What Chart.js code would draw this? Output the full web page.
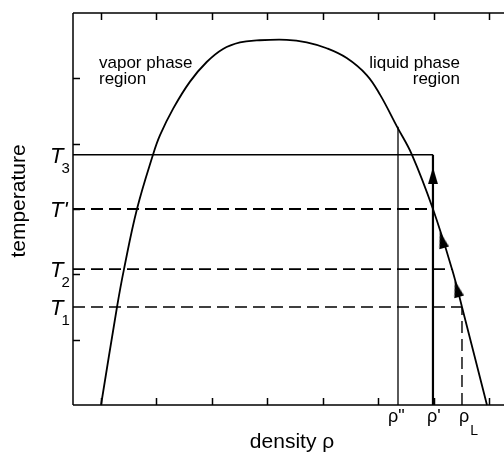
<!DOCTYPE html>
<html>
<head>
<meta charset="utf-8">
<script src="https://cdn.jsdelivr.net/npm/chart.js@4"></script>
<style>
    html, body { margin: 0; padding: 0; background: #fff; }
    #chart { display: block; }
</style>
</head>
<body>
<canvas id="chart" width="504" height="454"></canvas>
<script>
// coexistence curve (density vs temperature)
const curveX = [0.505, 0.793, 0.919, 1.153, 1.441, 1.568, 1.807, 2.108, 2.409, 2.703, 3.009, 3.310,
    3.850, 4.211, 4.571, 4.932, 5.292, 5.532, 5.838, 6.108, 6.486, 6.829, 7.009, 7.459];
const curveY = [0, 1.50, 2.08, 3.00, 3.83, 4.13, 4.54, 4.95, 5.25, 5.45, 5.55, 5.58,
    5.59, 5.55, 5.46, 5.31, 5.05, 4.75, 4.26, 3.83, 3.00, 2.08, 1.50, 0];

// temperature levels
const tempNames = ["T3", "T'", "T2", "T1"];
const tempValues = [3.83, 3.00, 2.08, 1.50];
const tempLineEnds = [6.486, 6.486, 6.829, 7.009];

// density levels
const rhoNames = ['ρ"', "ρ'", "ρL"];
const rhoValues = [5.856, 6.486, 7.009];
const rhoLineTops = [4.26, 3.83, 1.50];

// arrows along the path
const arrowX = [6.486, 6.649, 6.919];
const arrowY = [3.51, 2.53, 1.78];
const arrowAngle = [0, -15, -15];

const xTicks = [0.5, 1.5, 2.5, 3.5, 4.5, 5.5, 6.5, 7.5];
const yTicks = [1, 2, 3, 4, 5];
const xMax = 7.766;
const yMax = 6;

const FONT = '"Liberation Sans", Arial, sans-serif';

function makeArrowHead() {
    const c = document.createElement("canvas");
    c.width = 10;
    c.height = 17;
    const g = c.getContext("2d");
    g.fillStyle = "#000";
    g.beginPath();
    g.moveTo(5, 0);
    g.lineTo(10, 17);
    g.lineTo(0, 17);
    g.closePath();
    g.fill();
    return c;
}

function segment(x0, y0, x1, y1, width, dash) {
    return {
        data: [{ x: x0, y: y0 }, { x: x1, y: y1 }],
        showLine: true,
        borderColor: "#000",
        borderWidth: width,
        borderDash: dash || [],
        pointRadius: 0,
        clip: false
    };
}

const datasets = [{
    data: curveX.map((x, i) => ({ x, y: curveY[i] })),
    showLine: true,
    borderColor: "#000",
    borderWidth: 1.8,
    pointRadius: 0,
    tension: 0.4,
    clip: false
}];

// horizontal temperature lines: T3 solid, others dashed
tempValues.forEach((t, i) => {
    if (i === 0) {
        datasets.push(segment(0, t, tempLineEnds[i], t, 1.3));
    } else {
        datasets.push(segment(0, t, tempLineEnds[i], t, i === 3 ? 1.4 : 1.8, [12, 6]));
    }
});

// vertical density lines
datasets.push(segment(rhoValues[0], 0, rhoValues[0], rhoLineTops[0], 1.3));
datasets.push(segment(rhoValues[1], 0, rhoValues[1], rhoLineTops[1], 2.2));
datasets.push(segment(rhoValues[2], 0, rhoValues[2], rhoLineTops[2], 1.4, [12, 6]));

datasets.push({
    data: arrowX.map((x, i) => ({ x, y: arrowY[i] })),
    showLine: false,
    pointStyle: makeArrowHead(),
    rotation: arrowAngle,
    pointRadius: 6,
    clip: false
});

const axesPlugin = {
    id: "axesPlugin",
    afterDraw(chart) {
        const { ctx, chartArea: a, scales } = chart;
        const sx = scales.x;
        const sy = scales.y;
        ctx.save();
        ctx.strokeStyle = "#000";
        ctx.fillStyle = "#000";
        ctx.lineWidth = 1.5;
        ctx.setLineDash([]);

        // frame: left, top, bottom
        ctx.beginPath();
        ctx.moveTo(a.left, a.top);
        ctx.lineTo(a.left, a.bottom);
        ctx.moveTo(a.left, a.top);
        ctx.lineTo(a.right, a.top);
        ctx.moveTo(a.left, a.bottom);
        ctx.lineTo(a.right, a.bottom);
        ctx.stroke();

        // inward ticks
        const tl = 7;
        ctx.beginPath();
        xTicks.forEach((v) => {
            const px = Math.round(sx.getPixelForValue(v)) + 0.5;
            ctx.moveTo(px, a.top);
            ctx.lineTo(px, a.top + tl);
            ctx.moveTo(px, a.bottom);
            ctx.lineTo(px, a.bottom - tl);
        });
        yTicks.forEach((v) => {
            const py = Math.round(sy.getPixelForValue(v)) + 0.5;
            ctx.moveTo(a.left, py);
            ctx.lineTo(a.left + tl, py);
        });
        ctx.stroke();

        // temperature labels
        ctx.textAlign = "left";
        ctx.textBaseline = "alphabetic";
        tempNames.forEach((name, i) => {
            const py = sy.getPixelForValue(tempValues[i]);
            ctx.font = "italic 22px " + FONT;
            const main = name[1] === "'" ? "T'" : "T";
            ctx.fillText(main, 50, py + 8);
            if (main === "T") {
                const w = ctx.measureText("T").width;
                ctx.font = "15px " + FONT;
                ctx.fillText(name[1], 50 + w - 2, py + 18);
            }
        });

        // density labels
        const rhoOffsets = [-10, -6, -3];
        rhoNames.forEach((name, i) => {
            const px = sx.getPixelForValue(rhoValues[i]) + rhoOffsets[i];
            ctx.font = "18px " + FONT;
            const main = name.endsWith("L") ? "ρ" : name;
            ctx.fillText(main, px, a.bottom + 17);
            if (main === "ρ") {
                const w = ctx.measureText("ρ").width;
                ctx.font = "14px " + FONT;
                ctx.fillText("L", px + w + 1, a.bottom + 30);
            }
        });

        // region annotations
        ctx.font = "17px " + FONT;
        ctx.fillText("vapor phase", 99, 68);
        ctx.fillText("region", 99, 84);
        ctx.textAlign = "right";
        ctx.fillText("liquid phase", 460, 68);
        ctx.fillText("region", 460, 84);

        // axis titles
        ctx.textAlign = "center";
        ctx.font = "21px " + FONT;
        ctx.fillText("density ρ", 292, 448);
        ctx.translate(25, 201);
        ctx.rotate(-Math.PI / 2);
        ctx.fillText("temperature", 0, 0);
        ctx.restore();
    }
};

new Chart(document.getElementById("chart"), {
    type: "scatter",
    data: { datasets },
    options: {
        responsive: false,
        animation: false,
        devicePixelRatio: 1,
        layout: { autoPadding: false, padding: { left: 73, top: 13, right: 0, bottom: 49 } },
        plugins: { legend: { display: false }, tooltip: { enabled: false } },
        scales: {
            x: { type: "linear", min: 0, max: xMax, display: false },
            y: { type: "linear", min: 0, max: yMax, display: false }
        }
    },
    plugins: [axesPlugin]
});
</script>
</body>
</html>
